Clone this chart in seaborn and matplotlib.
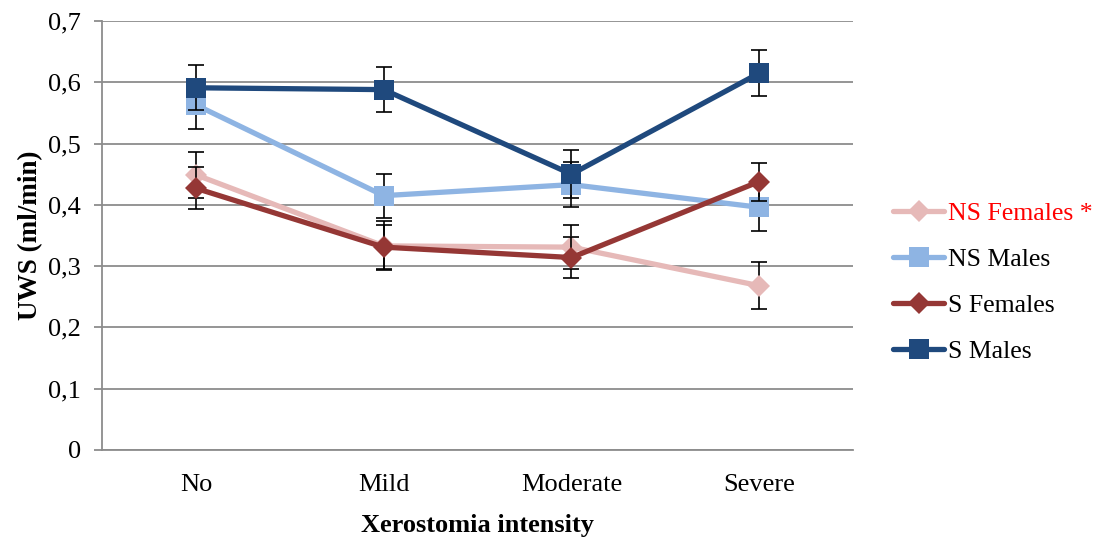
import matplotlib
matplotlib.use("Agg")
import matplotlib.pyplot as plt
import seaborn as sns
import pandas as pd
import numpy as np
from matplotlib.lines import Line2D

categories = ["No", "Mild", "Moderate", "Severe"]
series_names = ["NS Females *", "NS Males", "S Females", "S Males"]
ns_females = [0.449, 0.333, 0.331, 0.268]
ns_females_err = [0.038, 0.040, 0.036, 0.038]
ns_males = [0.563, 0.415, 0.433, 0.396]
ns_males_err = [0.039, 0.036, 0.037, 0.038]
s_females = [0.427, 0.331, 0.314, 0.438]
s_females_err = [0.034, 0.036, 0.033, 0.031]
s_males = [0.591, 0.588, 0.450, 0.615]
s_males_err = [0.037, 0.037, 0.039, 0.037]
yticks = [0, 0.1, 0.2, 0.3, 0.4, 0.5, 0.6, 0.7]
ytick_labels = ["0", "0,1", "0,2", "0,3", "0,4", "0,5", "0,6", "0,7"]

values = [ns_females, ns_males, s_females, s_males]
errors = [ns_females_err, ns_males_err, s_females_err, s_males_err]
colors = ["#E6B9B8", "#8EB4E3", "#953735", "#1F497D"]
markers = ["D", "s", "D", "s"]
msizes = [11, 14.5, 11, 14.5]

sns.set_theme(style="white")
plt.rcParams['font.family'] = ['Liberation Serif', 'DejaVu Serif']
plt.rcParams['text.color'] = 'black'
plt.rcParams['axes.labelcolor'] = 'black'
plt.rcParams['xtick.labelcolor'] = 'black'
plt.rcParams['ytick.labelcolor'] = 'black'

fig = plt.figure(figsize=(11.08, 5.38), dpi=100)
ax = fig.add_axes([0.0921, 0.1636, 0.6779, 0.7974])

rows = []
for name, vals, errs in zip(series_names, values, errors):
    for i, (c, v, e) in enumerate(zip(categories, vals, errs)):
        rows.append({"series": name, "pos": i, "cat": c, "value": v, "err": e})
df = pd.DataFrame(rows)

for k, (name, col, mk, ms) in enumerate(zip(series_names, colors, markers, msizes)):
    sub = df[df["series"] == name]
    ax.errorbar(sub["pos"], sub["value"], yerr=sub["err"], fmt="none",
                ecolor="black", elinewidth=1.2, capsize=5.5, capthick=1.2,
                zorder=2 + 2 * k)
    sns.lineplot(data=sub, x="pos", y="value", ax=ax, color=col, marker=mk,
                 markersize=ms, markeredgewidth=0, linewidth=3.8,
                 zorder=3 + 2 * k, legend=False, errorbar=None)

ax.set_xlim(-0.5, 3.5)
ax.set_ylim(0, 0.7)
ax.set_xticks(range(len(categories)))
ax.set_xticklabels(categories, fontsize=19, color="black")
ax.set_yticks(yticks)
ax.set_yticklabels(ytick_labels, fontsize=19, color="black")
ax.yaxis.grid(True, color="#8C8C8C", linewidth=1.3)
ax.xaxis.grid(False)
for s in ["top", "right"]:
    ax.spines[s].set_visible(False)
for s in ["left", "bottom"]:
    ax.spines[s].set_color("#8C8C8C")
    ax.spines[s].set_linewidth(1.3)
ax.tick_params(axis="y", length=6, width=1.3, left=True, pad=9, labelcolor="black", color="#8C8C8C")
ax.tick_params(axis="x", length=0, pad=17, labelcolor="black")
ax.set_xlabel("Xerostomia intensity", fontsize=19, fontweight="bold", labelpad=13, color="black")
ax.set_ylabel("UWS (ml/min)", fontsize=19.5, fontweight="bold", labelpad=4, color="black")
ax.set_axisbelow(True)

handles = [Line2D([0], [0], color=c, marker=m, markersize=ms, markeredgewidth=0, linewidth=3.8)
           for c, m, ms in zip(colors, markers, msizes)]
leg = fig.legend(handles, series_names, loc="upper left", bbox_to_anchor=(0.806, 0.625),
                 frameon=False, fontsize=18.5, handlelength=2.0, handletextpad=0.15,
                 labelspacing=0.9, borderpad=0, borderaxespad=0)
for t in leg.get_texts():
    t.set_color("black")
leg.get_texts()[0].set_color("red")

fig.savefig("out.png", dpi=100)
